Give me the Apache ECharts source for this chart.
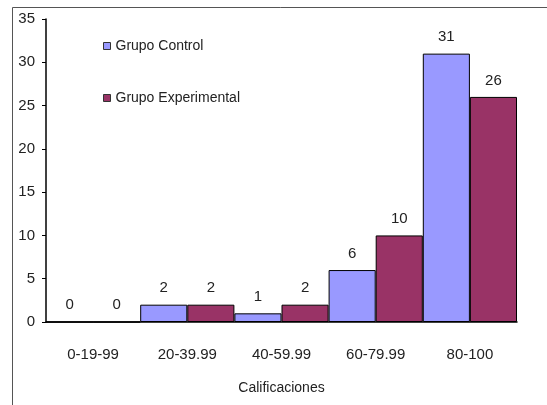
<!DOCTYPE html>
<html><head><meta charset="utf-8">
<script src="https://cdn.jsdelivr.net/npm/echarts@6/dist/echarts.min.js"></script>
<style>html,body{margin:0;padding:0;background:#fff}#c{width:547px;height:405px}</style>
</head><body><div id="c"></div>
<script>
const categories = ['0-19-99', '20-39.99', '40-59.99', '60-79.99', '80-100'];
const grupoControl = [0, 2, 1, 6, 31];
const grupoExperimental = [0, 2, 2, 10, 26];
const seriesNames = ['Grupo Control', 'Grupo Experimental'];
const yTicks = { min: 0, max: 35, interval: 5 };

const chart = echarts.init(document.getElementById('c'));
const font = '"Liberation Sans", Arial, sans-serif';
const lbl = { show: true, position: 'top', distance: 9, fontSize: 15, color: '#222', fontFamily: font };
chart.setOption({
  animation: false,
  graphic: [{ type: 'rect', shape: { x: 12.5, y: 7.5, width: 600, height: 500 }, style: { fill: 'none', stroke: '#555', lineWidth: 1 } }],
  legend: {
    orient: 'vertical', left: 98, top: 34, itemGap: 38,
    itemWidth: 7, itemHeight: 7, icon: 'rect',
    itemStyle: { borderColor: '#333', borderWidth: 1 },
    textStyle: { fontSize: 14, color: '#222', fontFamily: font },
    data: seriesNames
  },
  grid: { left: 46, right: 30, top: 19, bottom: 83 },
  xAxis: {
    type: 'category', data: categories,
    name: 'Calificaciones', nameLocation: 'middle', nameGap: 59,
    nameTextStyle: { fontSize: 14, color: '#222', fontFamily: font },
    axisLine: { lineStyle: { color: '#000', width: 1.5 } },
    axisTick: { length: 6, lineStyle: { color: '#000' } },
    axisLabel: { fontSize: 15, color: '#222', margin: 25, fontFamily: font }
  },
  yAxis: {
    type: 'value', min: yTicks.min, max: yTicks.max, interval: yTicks.interval,
    axisLine: { show: true, lineStyle: { color: '#000', width: 1.5 } },
    axisTick: { show: true, length: 4, lineStyle: { color: '#000' } },
    splitLine: { show: false },
    axisLabel: { fontSize: 15, color: '#222', margin: 11, fontFamily: font }
  },
  series: [
    { name: seriesNames[0], type: 'bar', data: grupoControl, barGap: '0%', barCategoryGap: '0%',
      itemStyle: { color: '#9999FF', borderColor: '#000', borderWidth: 1 }, label: lbl },
    { name: seriesNames[1], type: 'bar', data: grupoExperimental,
      itemStyle: { color: '#993366', borderColor: '#000', borderWidth: 1 }, label: lbl }
  ]
});
</script></body></html>
